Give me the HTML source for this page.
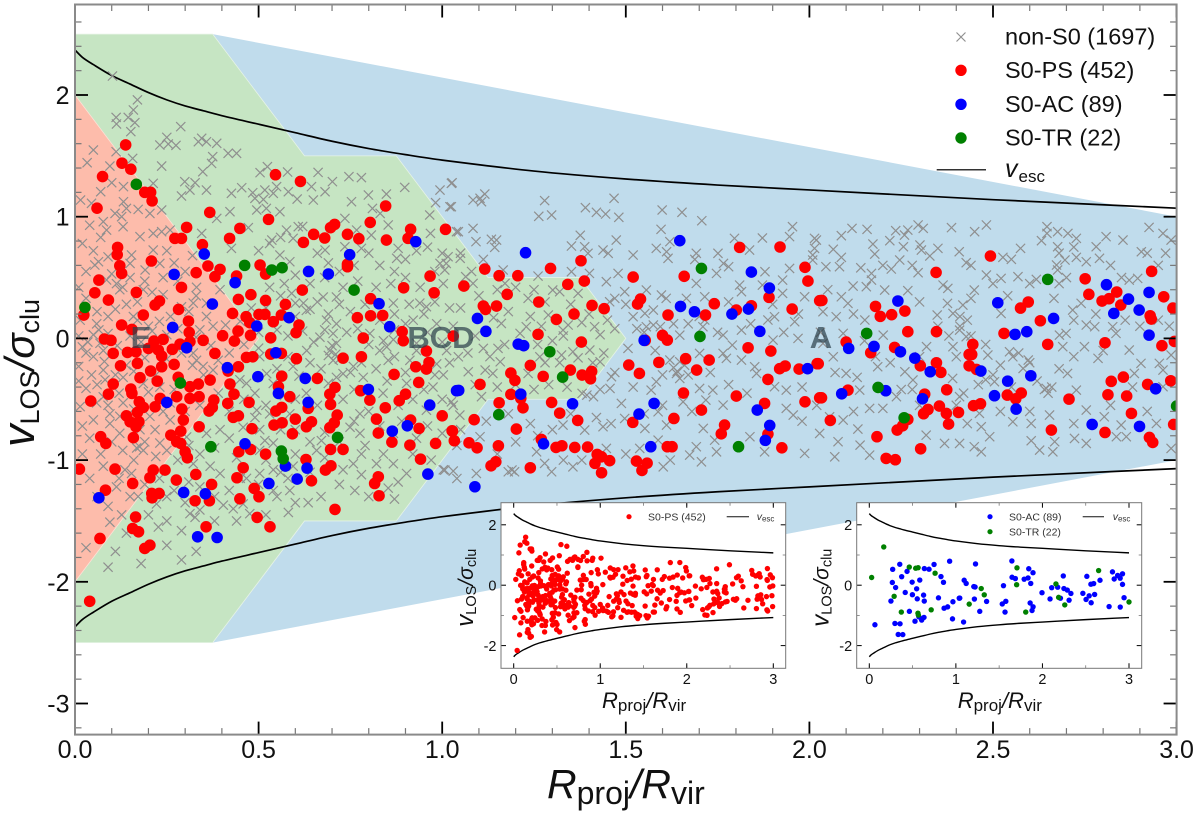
<!DOCTYPE html>
<html lang="en">
<head>
<meta charset="utf-8">
<title>Phase space diagram</title>
<style>
html,body{margin:0;padding:0;background:#fff;}
svg{display:block;font-family:"Liberation Sans",sans-serif;}
</style>
</head>
<body>
<svg id="chart" xmlns="http://www.w3.org/2000/svg" width="1200" height="816" viewBox="0 0 1200 816">
<defs>
<clipPath id="mainClip"><rect x="75" y="4.5" width="1101.6" height="730"/></clipPath>
</defs>
<g id="regions"></g>
<g id="mainCurves"></g>
<g id="mainPoints" clip-path="url(#mainClip)"></g>
<g font-weight="bold" font-size="31" fill="#2b3f4a" fill-opacity="0.7" text-anchor="middle">
<text x="141" y="348">E</text>
<text x="441" y="348">BCD</text>
<text x="821" y="348">A</text>
</g>
<g id="mainAxes"></g>
<g font-size="23.5" fill="#111">
<g>
<path d="M956.5 32.5L965.5 41.5M965.5 32.5L956.5 41.5" stroke="#919191" stroke-width="1.2" fill="none"/>
<text x="1005" y="44.5">non-S0 (1697)</text></g>
<g>
<circle cx="961" cy="70.3" r="5.7" fill="#ff0000"/><text x="1005" y="78">S0-PS (452)</text></g>
<g>
<circle cx="961" cy="104.3" r="5.7" fill="#0000ff"/><text x="1005" y="112">S0-AC (89)</text></g>
<g>
<circle cx="961" cy="138" r="5.7" fill="#008000"/><text x="1005" y="145.5">S0-TR (22)</text></g>
<g>
<line x1="936.7" y1="169.7" x2="986" y2="169.7" stroke="#333" stroke-width="1.5"/>
<text x="1005" y="177" font-style="italic" font-size="25">v</text><text x="1018.5" y="182" font-size="17">esc</text></g>
</g>
<text y="798" fill="#111" font-size="41"><tspan x="547" font-style="italic">R</tspan><tspan dy="6" font-size="32">proj</tspan><tspan dy="-6" font-style="italic">/R</tspan><tspan dy="6" font-size="32">vir</tspan></text>
<text transform="translate(34,447) rotate(-90)" fill="#111" font-size="42"><tspan x="0" font-style="italic" font-size="45">v</tspan><tspan dy="5" font-size="27">LOS</tspan><tspan dy="-5" font-style="italic">/σ</tspan><tspan dy="5" font-size="27">clu</tspan></text>
<g id="insetPs"></g>
<g id="insetAcTr"></g>
<g font-size="10.5" fill="#333">
<circle cx="629" cy="516.7" r="2.6" fill="#ff0000"/>
<text x="648" y="520.5">S0-PS (452)</text>
<line x1="726.7" y1="516.7" x2="749" y2="516.7" stroke="#111" stroke-width="1"/>
<text x="756.7" y="520"><tspan font-style="italic">v</tspan><tspan dy="1.5" font-size="8">esc</tspan></text>
</g>
<g font-size="10.5" fill="#333">
<circle cx="990" cy="516.7" r="2.6" fill="#0000ff"/>
<text x="1009" y="520.5">S0-AC (89)</text>
<circle cx="990" cy="531.7" r="2.6" fill="#008000"/>
<text x="1009" y="535.5">S0-TR (22)</text>
<line x1="1082.7" y1="516.7" x2="1104" y2="516.7" stroke="#111" stroke-width="1"/>
<text x="1112.7" y="520"><tspan font-style="italic">v</tspan><tspan dy="1.5" font-size="8">esc</tspan></text>
</g>
</svg>
<script>
const xTickValues=[0,0.5,1,1.5,2,2.5,3];
const xTickLabels=["0.0","0.5","1.0","1.5","2.0","2.5","3.0"];
const yTickValues=[-3,-2,-1,0,1,2];
const yTickLabels=["-3","-2","-1","0","1","2"];
const vescR=[0,0.02,0.05,0.1,0.15,0.2,0.25,0.3,0.35,0.4,0.5,0.6,0.7,0.8,0.9,1,1.25,1.5,1.75,2,2.5,3];
const vescV=[2.37,2.31,2.25,2.16,2.09,2.02,1.96,1.91,1.87,1.83,1.76,1.69,1.62,1.56,1.51,1.465,1.375,1.31,1.26,1.22,1.14,1.07];
const regionBlue=[[0.375,2.5],[3,1],[3,-1],[0.375,-2.5]];
const regionGreen=[[0,2.5],[0.375,2.5],[0.625,1.5],[0.875,1.5],[1.125,0.5],[1.375,0.5],[1.5,0],[1.375,-0.5],[1.125,-0.5],[0.875,-1.5],[0.625,-1.5],[0.375,-2.5],[0,-2.5]];
const regionRed=[[0,2],[0.5,0],[0,-2]];
const greenPoints=[[0.167,1.266],[0.462,0.6],[0.536,0.562],[0.564,0.581],[0.027,0.255],[0.287,-0.367],[0.37,-0.89],[0.562,-0.926],[0.567,-0.989],[0.715,-0.814],[0.76,0.397],[1.706,0.575],[1.702,0.016],[1.293,-0.11],[1.328,-0.318],[1.154,-0.627],[1.807,-0.89],[2.156,0.041],[2.187,-0.403],[2.258,-0.652],[2.649,0.485],[3,-0.556]];
const bluePoints=[[0.352,0.693],[0.27,0.526],[0.636,0.55],[0.69,0.529],[0.748,0.688],[0.928,0.795],[0.436,0.458],[0.374,0.282],[0.266,0.09],[0.304,-0.077],[0.415,-0.241],[0.495,0.101],[0.583,0.17],[0.547,-0.118],[0.498,-0.315],[0.627,-0.329],[0.554,-0.452],[0.635,-0.526],[0.25,-0.526],[0.463,-0.866],[0.573,-1.049],[0.632,-1.066],[0.528,-1.192],[0.605,-1.156],[0.065,-1.31],[0.296,-1.266],[0.355,-1.277],[0.334,-1.63],[0.387,-1.636],[0.828,0.285],[0.857,0.096],[0.799,-0.419],[0.966,-0.548],[0.905,-0.718],[0.864,-0.762],[0.961,-1.115],[1.039,-0.43],[1.227,0.704],[1.647,0.803],[1.842,0.545],[1.891,0.414],[1.096,0.164],[1.119,0.058],[1.207,-0.047],[1.222,-0.06],[1.649,0.263],[1.687,0.219],[1.789,0.2],[1.834,0.241],[1.865,0.058],[1.55,-0.016],[1.995,-0.249],[1.045,-0.427],[1.214,-0.458],[1.355,-0.537],[1.577,-0.534],[1.536,-0.622],[1.858,-0.589],[1.892,-0.715],[1.88,-0.838],[1.568,-0.89],[1.276,-0.866],[1.089,-1.219],[2.241,0.307],[2.513,0.293],[2.592,0.055],[2.56,0.033],[2.665,0.164],[2.107,-0.082],[2.176,-0.066],[2.248,-0.11],[2.287,-0.162],[2.329,-0.274],[2.467,-0.268],[2.603,-0.307],[2.54,-0.351],[2.208,-0.43],[2.088,-0.455],[2.308,-0.496],[2.504,-0.471],[2.563,-0.581],[2.77,-0.707],[2.899,-0.723],[2.809,0.441],[2.925,0.378],[2.869,0.323],[2.898,0.233],[2.829,0.205],[2.925,0.027],[2.943,-0.414]];
const redPoints=[[0.138,1.59],[0.128,1.44],[0.152,1.39],[0.075,1.33],[0.206,1.2],[0.19,1.2],[0.21,1.13],[0.06,1.07],[0.546,1.345],[0.614,1.29],[0.367,1.035],[0.527,0.978],[0.846,1.088],[0.804,0.953],[0.304,0.912],[0.449,0.904],[0.272,0.822],[0.29,0.822],[0.421,0.822],[0.707,0.937],[0.696,0.91],[0.65,0.855],[0.622,0.789],[0.68,0.825],[0.742,0.855],[0.773,0.819],[0.848,0.808],[0.907,0.822],[0.914,0.896],[1.009,0.896],[0.116,0.748],[0.115,0.688],[0.208,0.636],[0.347,0.77],[0.362,0.595],[0.395,0.567],[0.33,0.54],[0.122,0.597],[0.127,0.534],[0.065,0.479],[0.381,0.507],[0.44,0.512],[0.504,0.603],[0.519,0.529],[0.742,0.589],[0.742,0.61],[0.967,0.512],[0.054,0.375],[0.091,0.315],[0.167,0.378],[0.29,0.419],[0.282,0.238],[0.23,0.307],[0.218,0.274],[0.186,0.192],[0.024,0.192],[0.127,0.11],[0.155,0.074],[0.309,0.142],[0.311,0.049],[0.08,-0.005],[0.098,-0.016],[0.215,-0.022],[0.24,-0.008],[0.2,-0.082],[0.313,-0.027],[0.286,-0.047],[0.265,-0.09],[0.349,-0.016],[0.402,0.022],[0.434,-0.022],[0.444,0.06],[0.478,0.025],[0.429,0.205],[0.445,0.32],[0.479,0.359],[0.519,0.312],[0.619,0.397],[0.573,0.279],[0.501,0.197],[0.517,0.197],[0.466,0.178],[0.476,0.129],[0.54,0.137],[0.562,0.192],[0.61,0.11],[0.602,0.047],[0.533,0.005],[0.533,-0.129],[0.562,-0.123],[0.603,-0.167],[0.73,-0.162],[0.78,-0.151],[0.785,0.003],[0.769,0.17],[0.805,0.186],[0.838,0.189],[0.805,0.326],[0.895,0.416],[0.978,0.375],[0.891,0.055],[0.894,-0.019],[1.03,0.019],[0.957,-0.104],[0.964,-0.197],[0.928,-0.233],[0.957,-0.252],[0.869,-0.296],[0.936,-0.362],[0.9,-0.458],[0.883,-0.512],[0.845,-0.57],[1.0,-0.636],[0.821,-0.663],[0.914,-0.671],[0.826,-0.778],[0.937,-0.74],[0.863,-0.852],[0.912,-0.877],[0.982,-0.863],[1.028,-0.762],[0.941,-0.992],[0.826,-1.137],[0.816,-1.192],[0.828,-1.293],[0.708,-1.405],[0.778,-0.43],[0.803,-0.507],[0.708,-0.403],[0.694,-0.458],[0.696,-0.542],[0.66,-0.329],[0.585,-0.479],[0.563,-0.31],[0.554,-0.397],[0.563,-0.567],[0.547,-0.597],[0.635,-0.575],[0.6,-0.663],[0.714,-0.63],[0.706,-0.693],[0.694,-0.734],[0.644,-0.685],[0.63,-0.726],[0.564,-0.693],[0.542,-0.712],[0.592,-0.784],[0.482,-0.742],[0.445,-0.636],[0.431,-0.649],[0.474,-0.526],[0.416,-0.534],[0.433,-0.458],[0.422,-0.375],[0.417,-0.268],[0.445,-0.233],[0.484,-0.151],[0.467,-0.156],[0.381,-0.123],[0.368,-0.342],[0.336,-0.375],[0.313,-0.397],[0.338,-0.479],[0.313,-0.493],[0.277,-0.479],[0.281,-0.32],[0.27,-0.214],[0.236,-0.233],[0.206,-0.268],[0.224,-0.351],[0.177,-0.323],[0.17,-0.205],[0.124,-0.225],[0.104,-0.123],[0.143,-0.115],[0.166,-0.11],[0.227,-0.096],[0.236,-0.145],[0.104,-0.375],[0.091,-0.458],[0.043,-0.515],[0.152,-0.416],[0.155,-0.452],[0.175,-0.521],[0.186,-0.567],[0.17,-0.608],[0.14,-0.636],[0.15,-0.685],[0.174,-0.685],[0.166,-0.726],[0.218,-0.562],[0.232,-0.493],[0.378,-0.507],[0.374,-0.567],[0.365,-0.597],[0.291,-0.581],[0.295,-0.671],[0.338,-0.726],[0.288,-0.762],[0.261,-0.795],[0.277,-0.849],[0.288,-0.863],[0.3,-0.932],[0.306,-0.981],[0.07,-0.808],[0.084,-0.863],[0.159,-0.816],[0.012,-1.074],[0.109,-1.074],[0.245,-1.082],[0.204,-1.145],[0.213,-1.082],[0.157,-1.192],[0.329,-1.118],[0.276,-1.164],[0.083,-1.247],[0.209,-1.274],[0.21,-1.31],[0.229,-1.274],[0.372,-1.2],[0.366,-1.334],[0.327,-1.334],[0.165,-1.468],[0.157,-1.562],[0.173,-1.589],[0.068,-1.644],[0.204,-1.699],[0.19,-1.726],[0.357,-1.548],[0.441,-1.145],[0.458,-1.063],[0.446,-0.932],[0.478,-0.912],[0.519,-0.951],[0.488,-1.233],[0.501,-1.301],[0.449,-1.318],[0.496,-1.471],[0.531,-1.548],[0.629,-0.995],[0.682,-1.082],[0.697,-1.047],[0.644,-1.17],[0.696,-0.912],[0.73,-0.912],[0.04,-2.16],[1.116,0.57],[1.155,0.515],[1.206,0.515],[1.295,0.575],[1.378,0.638],[1.387,0.471],[1.342,0.444],[1.059,0.43],[1.177,0.362],[1.112,0.266],[1.118,0.238],[1.148,0.266],[1.263,0.299],[1.408,0.271],[1.441,0.244],[1.359,0.2],[1.311,0.156],[1.261,0.033],[1.379,-0.03],[1.24,-0.222],[1.349,-0.26],[1.275,-0.312],[1.187,-0.285],[1.198,-0.345],[1.381,-0.301],[1.407,-0.271],[1.404,-0.332],[1.103,-0.378],[1.187,-0.46],[1.214,-0.493],[1.22,-0.57],[1.155,-0.529],[1.298,-0.526],[1.32,-0.614],[1.369,-0.674],[1.087,-0.668],[1.202,-0.745],[1.027,-0.759],[1.033,-0.841],[1.073,-0.858],[1.095,-0.899],[1.153,-0.882],[1.146,-1.014],[1.133,-1.047],[1.24,-1.063],[1.27,-0.83],[1.31,-0.896],[1.326,-0.882],[1.361,-0.896],[1.396,-0.893],[1.422,-0.953],[1.434,-0.973],[1.416,-1.027],[1.456,-1.005],[1.434,-1.104],[1.52,0.504],[1.54,0.323],[1.532,0.282],[1.659,0.51],[1.81,0.748],[1.92,0.751],[1.615,0.192],[1.717,0.192],[1.741,0.285],[1.801,0.233],[1.842,0.268],[1.89,0.337],[1.953,0.241],[1.988,0.584],[1.996,0.471],[2.028,0.31],[1.553,-0.016],[1.6,0.025],[1.613,-0.014],[1.833,-0.077],[1.895,-0.104],[1.508,-0.219],[1.537,-0.288],[1.59,-0.197],[1.663,-0.167],[1.727,-0.178],[1.693,-0.26],[1.887,-0.337],[1.919,-0.249],[1.934,-0.227],[1.972,-0.252],[2.021,-0.208],[1.657,-0.449],[1.801,-0.474],[1.878,-0.534],[1.988,-0.521],[2.028,-0.488],[1.706,-0.589],[1.631,-0.658],[1.519,-0.69],[1.769,-0.712],[1.76,-0.784],[1.887,-0.786],[1.613,-0.89],[1.626,-0.89],[1.925,-0.899],[1.529,-1.008],[1.558,-1.025],[1.544,-1.085],[2.034,0.312],[2.18,0.263],[2.193,0.181],[2.224,0.195],[2.26,0.225],[2.345,0.542],[2.493,0.677],[2.268,0.055],[2.346,0.055],[2.1,-0.03],[2.167,-0.118],[2.232,-0.074],[2.024,-0.208],[2.302,-0.225],[2.346,-0.2],[2.358,-0.279],[2.445,-0.049],[2.442,-0.132],[2.435,-0.132],[2.435,-0.225],[2.455,-0.255],[2.105,-0.425],[2.033,-0.488],[2.374,-0.422],[2.314,-0.458],[2.354,-0.556],[2.323,-0.584],[2.311,-0.619],[2.373,-0.616],[2.406,-0.608],[2.379,-0.704],[2.057,-0.674],[2.268,-0.666],[2.254,-0.718],[2.239,-0.753],[2.184,-0.808],[2.303,-0.907],[2.209,-0.986],[2.234,-0.997],[2.53,0.041],[2.649,-0.049],[2.629,0.145],[2.575,0.249],[2.596,0.299],[2.751,0.49],[2.761,0.362],[2.797,0.307],[2.816,0.326],[2.837,0.381],[2.848,0.274],[2.932,0.551],[2.965,0.342],[2.99,0.249],[2.928,0.186],[2.931,0.159],[2.805,-0.036],[2.96,-0.06],[2.994,-0.025],[2.822,-0.353],[2.855,-0.318],[2.921,-0.378],[2.984,-0.348],[2.813,-0.463],[2.864,-0.474],[2.877,-0.616],[2.707,-0.499],[2.539,-0.466],[2.577,-0.449],[2.562,-0.496],[2.466,-0.537],[2.447,-0.553],[2.659,-0.753],[2.805,-0.773],[2.926,-0.814],[2.935,-0.855],[2.992,-0.707]];
const greyPoints=[[0.102,2.156],[0.17,1.96],[0.159,1.877],[0.112,1.816],[0.145,1.816],[0.113,1.762],[0.163,1.773],[0.152,1.699],[0.288,1.74],[0.25,1.652],[0.231,1.589],[0.254,1.597],[0.275,1.586],[0.345,1.644],[0.336,1.616],[0.358,1.616],[0.386,1.603],[0.417,1.521],[0.44,1.521],[0.05,1.548],[0.033,1.444],[0.112,1.534],[0.095,1.416],[0.157,1.479],[0.236,1.416],[0.375,1.493],[0.372,1.438],[0.348,1.37],[0.504,1.362],[0.524,1.411],[0.579,1.367],[0.662,1.364],[0.746,1.329],[0.78,1.321],[0.299,1.288],[0.327,1.279],[0.358,1.219],[0.313,1.219],[0.29,1.17],[0.426,1.192],[0.454,1.238],[0.484,1.197],[0.49,1.151],[0.517,1.219],[0.513,1.142],[0.549,1.247],[0.54,1.192],[0.581,1.205],[0.605,1.145],[0.644,1.247],[0.649,1.137],[0.681,1.205],[0.701,1.288],[0.753,1.123],[0.799,1.178],[0.848,1.186],[0.898,1.241],[0.81,1.068],[0.994,1.219],[1.025,1.274],[0.982,1.115],[1.025,1.082],[0.966,1.014],[0.015,1.137],[0.045,1.11],[0.07,1.205],[0.1,1.279],[0.132,1.247],[0.132,1.123],[0.14,1.068],[0.172,1.06],[0.204,1.027],[0.236,1.055],[0.213,1.274],[0.109,1.027],[0.077,0.959],[0.127,1],[0.131,0.918],[0.086,0.89],[0.177,0.836],[0.213,0.863],[0.236,0.877],[0.259,0.89],[0.345,0.863],[0.422,1.041],[0.386,0.986],[0.558,1.041],[0.521,1.068],[0.495,1.055],[0.735,0.986],[0.576,0.89],[0.608,0.918],[0.472,0.91],[0.536,0.808],[0.594,0.822],[0.426,0.74],[0.807,0.849],[0.767,0.89],[0.831,1.027],[0.853,0.932],[0.968,0.863],[1.039,0.877],[0.88,0.74],[0.681,0.726],[0.735,0.753],[0.78,0.74],[0.558,0.685],[0.585,0.63],[1.016,0.671],[0.994,0.616],[0.876,0.658],[0.054,0.603],[0.064,0.63],[0.154,0.685],[0.15,0.616],[0.191,0.562],[0.213,0.726],[0.231,0.616],
[0.014,0.15],[0.059,0.12],[0.05,0.03],[0.02,-0.07],[0.01,-0.23],[0.045,-0.3],[0.077,-0.26],[0.082,-0.34],[0.014,-0.56],[0.05,-0.67],[0.095,-0.7],[0.122,-0.78],[0.168,-0.9],[0.176,-0.89],[0.231,-0.86],[0.077,-1.05],[0.136,-1.08],[0.154,-1.11],[0.113,-1.22],[0.172,-1.3],[0.095,-1.51],[0.127,-1.45],[0.227,-1.55],[0.222,-1.36],[0.25,-1.3],[0.327,-1.47],[0.313,-1.44],[0.34,-1.41],[0.29,-1.58],[0.404,-1.37],[0.431,-1.4],[0.458,-1.36],[0.476,-1.44],[0.581,-1.43],[0.635,-1.35],[0.585,-1.25],[0.467,-1.15],[0.395,-1.11],[0.322,-1.03],[0.368,-1.05],[0.54,-1.08],[0.503,-1.11],[0.594,-1.05],[0.73,-1.08],[0.758,-1.03],[0.762,-1.25],[0.853,-1.23],[0.903,-1.11],[0.821,-1.03],[0.776,-0.78],[0.78,-0.95],[0.658,-0.92],[0.671,-0.84],[0.517,-0.84],[0.503,-0.75],[0.54,-0.86],[0.458,-0.73],[0.495,-0.59],[0.395,-0.75],[0.358,-0.78],[0.304,-0.81],[0.186,-0.92],[0.204,-0.64],[0.177,-0.75],[0.122,-0.64],[0.095,-0.62],[0.059,-0.53],[0.077,-0.48],[0.131,-0.53],[0.259,-0.53],[0.259,-0.67],[0.218,-0.75],[0.231,-0.4],[0.186,-0.37],[0.131,-0.32],[0.077,-0.1],[0.068,-0.04],[0.05,-0.15],[0.159,0.18],[0.122,0.4],[0.086,0.48],[0.113,0.45],[0.186,0.4],[0.24,0.36],[0.322,0.29],[0.331,0.42],[0.358,0.29],[0.395,0.4],[0.34,0.07],[0.376,0.1],[0.358,0.18],[0.331,-0.18],[0.322,-0.12],[0.349,-0.23],[0.376,-0.26],[0.449,-0.34],[0.467,-0.37],[0.503,-0.15],[0.54,-0.37],[0.522,-0.29],[0.594,-0.23],[0.631,-0.1],[0.667,0.01],[0.685,0.15],[0.712,0.12],[0.703,0.04],[0.712,-0.04],[0.694,-0.1],[0.703,-0.18],[0.73,-0.29],[0.712,-0.32],[0.622,0.29],[0.63,0.23],[0.6,0.29],[0.59,0.37],[0.676,0.34],[0.712,0.34],[0.803,0.04],[0.83,-0.1],[0.849,-0.07],[0.853,-0.18],[0.785,-0.32],[0.758,-0.23],[0.867,0.29],[0.939,0.29],[0.957,0.26],[0.921,0.15],[0.985,0.12],[1.003,0.45],[1.003,-0.3],[0.985,-0.21],[0.912,-0.18],[0.867,-0.01],[1.012,-0.1],[0.975,-0.4],[0.839,-0.45],[0.776,-0.62],[0.749,-0.73],[0.503,-0.92],[0.585,-0.62],[0.867,-1.03],[1.003,-1.08],[1.03,-1.09],[0.867,-0.78],[0.957,-0.59],[0.903,-0.37],
[1.027,1.279],[1.021,1.082],[1.084,1.137],[1.103,1.151],[1.116,1.186],[1.107,1.123],[1.279,1.132],[1.263,1.003],[1.298,1.014],[1.39,1.074],[1.468,1.151],[1.42,1.036],[1.445,1.022],[1.481,0.995],[1.599,1.055],[1.653,1.036],[1.707,0.967],[1.596,0.896],[1.084,0.904],[1.092,0.795],[1.134,0.814],[1.148,0.808],[1.143,0.748],[1.044,0.877],[1.376,0.847],[1.352,0.759],[1.388,0.753],[1.474,0.808],[1.438,0.726],[1.452,0.699],[1.397,0.699],[1.52,0.685],[1.583,0.74],[1.611,0.712],[1.615,0.658],[1.62,0.795],[1.692,0.699],[1.688,0.649],[1.751,0.699],[1.796,0.822],[1.837,0.726],[1.872,0.825],[1.946,0.836],[1.954,0.918],[2.019,0.808],[2.014,0.74],[2.009,0.644],[1.766,0.616],[1.78,0.589],[1.879,0.548],[1.946,0.575],[1.927,0.479],[1.479,0.534],[1.447,0.466],[1.401,0.534],[1.352,0.548],[1.261,0.512],[1.112,0.649],[1.049,0.658],[1.011,0.616],[1.007,0.562],[1.064,0.507],[1.084,0.452],[1.166,0.562],[1.171,0.452],[1.234,0.329],[1.301,0.397],[1.32,0.384],[1.37,0.37],[1.47,0.329],[1.456,0.301],[1.497,0.384],[1.556,0.397],[1.597,0.356],[1.61,0.329],[1.692,0.452],[1.665,0.329],[1.715,0.342],[1.747,0.534],[1.81,0.438],[1.815,0.384],[1.927,0.37],[1.872,0.438],[1.987,0.342],[1.52,0.178],[1.552,0.205],[1.575,0.233],[1.575,0.11],[1.556,0.096],[1.594,0.096],[1.647,0.027],[1.71,0.096],[1.715,0.151],[1.765,0.027],[1.815,0.068],[1.887,0.151],[1.905,0.178],[1.96,0.137],[1.969,0],[1.901,-0.014],[1.79,-0.055],[1.765,-0.123],[1.774,-0.164],[1.815,-0.178],[1.851,-0.233],[1.856,-0.288],[1.701,-0.123],[1.647,-0.192],[1.62,-0.178],[1.638,-0.288],[1.647,-0.329],[1.583,-0.356],[1.569,-0.425],[1.701,-0.411],[1.737,-0.425],[1.718,-0.507],[1.656,-0.521],[1.765,-0.548],[1.937,-0.575],[1.956,-0.63],[1.905,-0.397],[1.937,-0.425],[1.488,-0.534],[1.497,-0.658],[1.552,-0.74],[1.588,-0.603],[1.611,-0.712],[1.711,-0.74],[1.742,-0.836],[1.747,-0.932],[1.692,-0.89],[1.674,-0.959],[1.706,-1.014],[1.838,-0.808],[1.878,-0.932],[1.987,-0.945],[1.621,-1],[1.602,-1.055],[1.588,-0.836],[1.538,-0.904],[1.438,-0.726],[1.388,-0.753],[1.329,-0.712],[1.381,-0.452],[1.412,-0.479],[1.457,-0.411],[1.461,-0.315],[1.43,-0.192],[1.506,-0.082],[1.402,-0.096],[1.356,-0.11],[1.325,-0.137],[1.329,0.068],[1.343,0.11],[1.415,0.096],[1.289,0.192],[1.229,0.096],[1.212,0.041],[1.161,0.123],[1.112,-0.082],[1.152,-0.082],[1.044,-0.151],[1.071,-0.274],[1.117,-0.26],[1.158,-0.192],[1.138,-0.288],[1.234,-0.288],[1.266,-0.151],[1.107,-0.479],[1.025,-0.521],[1.048,-0.63],[1.103,-0.808],[1.19,-1.082],[1.197,-1.096],[1.18,-1.096],[1.298,-1.096],[1.356,-1.055],[1.279,-1.027],[1.257,-0.932],[1.093,-1.11],[1.04,-1.151],[1.007,-1.082],[1.447,-0.904],[1.394,-0.466],
[2.116,0.904],[2.087,0.844],[2.157,0.896],[2.235,0.885],[2.268,0.89],[2.259,0.849],[2.296,0.932],[2.31,0.904],[2.387,0.91],[2.45,0.877],[2.482,0.932],[2.647,0.918],[2.647,0.863],[2.632,0.803],[2.676,0.877],[2.704,0.863],[2.727,0.822],[2.808,0.836],[2.854,0.808],[2.925,0.912],[2.963,0.863],[2.985,0.808],[2.014,0.822],[2.065,0.732],[2.173,0.775],[2.178,0.693],[2.219,0.803],[2.256,0.753],[2.301,0.767],[2.305,0.726],[2.35,0.74],[2.408,0.712],[2.328,0.677],[2.246,0.644],[2.223,0.57],[2.087,0.666],[2.082,0.589],[2.045,0.589],[2.009,0.685],[2.427,0.622],[2.527,0.666],[2.575,0.74],[2.676,0.753],[2.696,0.644],[2.673,0.603],[2.727,0.666],[2.754,0.63],[2.79,0.658],[2.781,0.753],[2.904,0.712],[2.169,0.534],[2.169,0.479],[2.155,0.425],[2.205,0.397],[2.119,0.43],[2.268,0.392],[2.296,0.54],[2.364,0.438],[2.377,0.411],[2.482,0.521],[2.522,0.493],[2.568,0.507],[2.618,0.485],[2.676,0.562],[2.871,0.479],[2.894,0.493],[2.449,0.397],[2.44,0.329],[2.418,0.274],[2.391,0.205],[2.087,0.342],[2.105,0.288],[2.037,0.219],[2.073,0.178],[2.151,0.151],[2.348,0.192],[2.376,0.288],[2.522,0.205],[2.666,0.329],[2.717,0.233],[2.74,0.288],[2.754,0.11],[2.777,0.096],[2.699,0.041],[2.681,0.027],[2.826,0.096],[2.835,0.041],[2.545,-0.11],[2.554,-0.151],[2.486,-0.137],[2.409,0.068],[2.427,0.014],[2.391,-0.068],[2.4,-0.151],[2.319,-0.068],[2.201,0.027],[2.092,0.041],[2.037,-0.041],[2.065,-0.151],[2.1,-0.288],[2.186,-0.233],[2.26,-0.274],[2.282,-0.342],[2.39,-0.329],[2.504,-0.356],[2.582,-0.247],[2.596,-0.178],[2.703,-0.288],[2.645,-0.411],[2.786,-0.164],[2.871,-0.096],[2.903,-0.205],[2.749,-0.068],[2.69,-0.068],[2.953,-0.205],[2.963,-0.26],[2.985,-0.137],[2.164,-0.575],[2.2,-0.575],[2.237,-0.479],[2.137,-0.425],[2.055,-0.644],[2.092,-0.671],[2.132,-0.745],[2.028,-0.781],[2.078,-0.849],[2.138,-0.877],[2.069,-0.973],[2.164,-0.959],[2.318,-0.795],[2.368,-0.863],[2.409,-0.863],[2.449,-0.89],[2.468,-0.932],[2.491,-0.808],[2.468,-0.726],[2.409,-0.479],[2.463,-0.616],[2.554,-0.685],[2.604,-0.699],[2.654,-0.63],[2.627,-0.918],[2.663,-0.932],[2.668,-0.849],[2.604,-0.841],[2.754,-0.589],[2.722,-0.822],[2.754,-0.863],[2.836,-0.808],[2.863,-0.808],[2.849,-0.712],[2.945,-0.699],[2.803,-0.644],[2.885,-0.288],[2.963,-0.397],[2.727,-0.425],[2.985,-0.904]];
const greyPointsDense=[[0.01,0.42],[0.03,0.55],[0.05,0.72],[0.02,0.78],[0.07,0.83],[0.04,0.93],[0.09,0.67],[0.1,0.53],[0.13,0.42],[0.15,0.5],[0.17,0.3],[0.19,0.47],[0.21,0.38],[0.24,0.5],[0.27,0.62],[0.3,0.55],[0.32,0.68],[0.25,0.72],[0.28,0.47],[0.33,0.35],[0.03,0.33],[0.06,0.22],[0.09,0.18],[0.11,0.24],[0.14,0.28],[0.17,0.15],[0.2,0.1],[0.23,0.14],[0.26,0.18],[0.29,0.26],[0.31,0.22],[0.01,0.02],[0.035,-0.03],[0.065,0.07],[0.09,0.04],[0.115,-0.06],[0.15,0.02],[0.18,-0.03],[0.21,0.06],[0.25,0.03],[0.28,0.08],[0.33,0.01],[0.37,-0.06],[0.41,0.11],[0.45,0.14],[0.48,0.25],[0.03,-0.12],[0.08,-0.19],[0.11,-0.3],[0.14,-0.22],[0.16,-0.27],[0.19,-0.16],[0.22,-0.3],[0.25,-0.17],[0.29,-0.12],[0.32,-0.22],[0.35,-0.3],[0.39,-0.18],[0.42,-0.12],[0.46,-0.05],[0.01,-0.35],[0.03,-0.41],[0.06,-0.38],[0.09,-0.55],[0.12,-0.45],[0.16,-0.58],[0.2,-0.44],[0.24,-0.6],[0.27,-0.42],[0.3,-0.6],[0.34,-0.55],[0.39,-0.45],[0.42,-0.6],[0.46,-0.5],[0.02,-0.72],[0.04,-0.82],[0.07,-0.95],[0.1,-0.85],[0.13,-0.92],[0.16,-1.0],[0.19,-0.85],[0.22,-0.97],[0.25,-0.92],[0.28,-1.0],[0.31,-0.88],[0.34,-0.95],[0.38,-0.9],[0.42,-0.82],[0.44,-0.98],[0.02,-0.95],[0.04,-1.15],[0.06,-1.3],[0.09,-1.38],[0.12,-1.15],[0.15,-1.3],[0.19,-1.2],[0.23,-1.15],[0.27,-1.25],[0.31,-1.18],[0.34,-1.22],[0.38,-1.3],[0.42,-1.25],[0.45,-1.15],[0.5,-1.2],[0.55,-1.3],[0.58,-1.15],[0.6,-1.35],[0.2,-1.45],[0.25,-1.5],[0.3,-1.35],[0.14,-1.6],[0.11,-1.75],[0.25,-1.7],[0.29,-1.82],[0.09,-1.88],[0.03,-1.72],[0.18,-1.85],[0.33,-1.75],[0.38,-1.5],[0.44,-1.5],[0.52,-1.45],
[0.5,0.72],[0.53,0.78],[0.56,0.83],[0.62,0.92],[0.66,0.7],[0.69,0.62],[0.72,0.55],[0.76,0.6],[0.8,0.7],[0.83,0.6],[0.87,0.55],[0.9,0.65],[0.93,0.72],[0.96,0.75],[1,0.7],[0.53,0.42],[0.57,0.45],[0.6,0.52],[0.64,0.45],[0.68,0.5],[0.73,0.42],[0.77,0.47],[0.82,0.42],[0.86,0.45],[0.9,0.5],[0.94,0.42],[0.98,0.55],[0.52,0.25],[0.56,0.35],[0.6,0.18],[0.64,0.24],[0.66,0.3],[0.69,0.2],[0.72,0.28],[0.75,0.22],[0.79,0.28],[0.83,0.15],[0.87,0.2],[0.91,0.28],[0.95,0.2],[0.98,0.3],[1.02,0.25],[0.5,0.05],[0.55,0.07],[0.58,0.02],[0.62,0.06],[0.65,-0.03],[0.68,0.07],[0.7,-0.06],[0.71,-0.13],[0.72,-0.17],[0.69,-0.14],[0.74,0.05],[0.77,0.08],[0.8,-0.05],[0.84,-0.02],[0.87,0.07],[0.9,0.12],[0.93,-0.04],[0.96,0.05],[1,-0.03],[1.03,0.1],[0.5,-0.08],[0.55,-0.25],[0.58,-0.15],[0.61,-0.31],[0.64,-0.2],[0.67,-0.25],[0.75,-0.28],[0.78,-0.2],[0.82,-0.25],[0.87,-0.15],[0.9,-0.28],[0.93,-0.1],[0.98,-0.3],[1.02,-0.2],[0.49,-0.45],[0.52,-0.55],[0.57,-0.47],[0.6,-0.5],[0.63,-0.45],[0.66,-0.55],[0.69,-0.37],[0.73,-0.5],[0.76,-0.42],[0.8,-0.6],[0.85,-0.35],[0.88,-0.55],[0.92,-0.5],[0.95,-0.42],[1,-0.5],[1.03,-0.55],[0.49,-0.65],[0.53,-0.62],[0.56,-0.75],[0.6,-0.75],[0.64,-0.85],[0.68,-0.77],[0.72,-0.85],[0.76,-0.68],[0.79,-0.88],[0.83,-0.72],[0.89,-0.68],[0.93,-0.82],[0.96,-0.72],[1,-0.78],[1.04,-0.88],[0.52,-1.0],[0.56,-1.1],[0.6,-0.95],[0.64,-1.1],[0.68,-0.98],[0.72,-1.2],[0.78,-1.12],[0.84,-0.95],[0.88,-1.18],[0.92,-0.95],[0.97,-1.0],[0.67,-1.3],[0.54,-1.25],[0.8,-1.3],[0.87,-1.32],
[1.05,0.7],[1.08,0.55],[1.1,0.35],[1.15,0.4],[1.2,0.42],[1.25,0.4],[1.28,0.3],[1.35,0.28],[1.4,0.2],[1.45,0.15],[1.5,0.28],[1.05,0.25],[1.09,0.02],[1.14,0.17],[1.18,0.22],[1.24,0.18],[1.27,0.1],[1.3,-0.02],[1.33,0.02],[1.38,0.13],[1.43,0.03],[1.47,0.08],[1.07,-0.12],[1.13,-0.15],[1.17,-0.05],[1.26,-0.05],[1.28,-0.2],[1.32,-0.2],[1.37,-0.16],[1.41,-0.2],[1.44,-0.12],[1.09,-0.38],[1.15,-0.4],[1.2,-0.38],[1.25,-0.42],[1.29,-0.38],[1.34,-0.4],[1.43,-0.42],[1.47,-0.28],[1.05,-0.75],[1.12,-0.68],[1.18,-0.62],[1.24,-0.7],[1.3,-0.75],[1.35,-0.62],[1.42,-0.65],[1.46,-0.7],[1.15,-0.95],[1.2,-0.85],[1.26,-0.8],[1.33,-1.0],[1.38,-1],[1.5,-0.95],[1.55,-0.62],[1.6,-0.3],[1.53,0.08],[1.55,0.05],[1.58,-0.1],[1.63,0.12],[1.67,0.12],[1.7,0.18],[1.75,0.05],[1.78,0.3],[1.84,0.12],[1.9,0.28],[1.93,0.05],[1.97,0.2],[2.03,0.05],[2.05,0.4],[2.12,0.2],[2.15,-0.02],[2.18,-0.15],[2.07,-0.28],[2.13,-0.32],[1.66,-0.22],[1.64,-0.27],[1.63,-0.24],[1.67,-0.3],[1.52,-0.4],[1.6,-0.55],[1.68,-0.6],[1.73,-0.28],[1.78,-0.38],[1.83,-0.45],[1.98,-0.4],[1.98,-0.68],[2.02,-0.55],[2.12,-0.6],[2.25,-0.42],[2.22,-0.2],[2.3,-0.15],[2.35,0.1],[2.38,0.02],[2.41,0.1],[2.43,0.15],[2.41,0.18],[2.44,0.02],[2.48,-0.05],[2.52,-0.22],[2.5,-0.3],[2.48,-0.34],[2.46,-0.38],[2.55,-0.4],[2.57,-0.12],[2.6,-0.2],[2.62,-0.35],[2.65,-0.45],[2.64,-0.42],[2.66,-0.4],[2.68,-0.25],[2.72,-0.15],[2.72,0.15],[2.78,0.2],[2.8,-0.1],[2.86,0.15],[2.9,0.1],[2.95,0.15],[2.98,0.1],[2.88,-0.4],[2.82,-0.55],[2.92,-0.6],[2.72,-0.7],[2.6,-0.6],[2.52,-0.6],[2.42,-0.45],[2.43,-0.7],[2.3,-0.55],[2.28,-0.42],[2.4,-0.55],[2.54,0.35],[2.55,0.65],[2.6,0.45],[2.68,0.45],[2.7,0.5],[2.68,0.7],[2.72,0.75],[2.82,0.6],[2.85,0.5],[2.95,0.6],[2.97,0.7],[2.92,0.7],[2.5,0.45],[2.44,0.6],[2.28,0.6],[2.3,0.3],[2.2,0.6],[2.14,0.58]];

const NS="http://www.w3.org/2000/svg";
function mk(parent,tag,attrs,text){
  const el=document.createElementNS(NS,tag);
  for(const k in attrs) el.setAttribute(k,attrs[k]);
  if(text!==undefined) el.textContent=text;
  parent.appendChild(el);
  return el;
}
const mainX=x=>75+367.2*x;
const mainY=v=>338.4-121.7*v;

function drawRegion(list,fill,stroke,name){
  const g=document.getElementById("regions");
  const el=mk(g,"polygon",{points:list.map(p=>mainX(p[0])+","+mainY(p[1])).join(" "),fill:fill,stroke:stroke,"stroke-width":0.8});
  
  
}
drawRegion(regionBlue,"#c0dcec","none","region-a");
drawRegion(regionGreen,"#c6e5c3","#e6f3e6","region-bcd");
drawRegion(regionRed,"#fdbcab","#fde0d6","region-e");

function smoothPath(pts){
  let d=`M${pts[0][0]} ${pts[0][1]}`;
  for(let i=0;i<pts.length-1;i++){
    const p0=pts[Math.max(i-1,0)],p1=pts[i],p2=pts[i+1],p3=pts[Math.min(i+2,pts.length-1)];
    const h=(p2[0]-p1[0])/3;
    const m1=(p2[1]-p0[1])/(p2[0]-p0[0]);
    const m2=(p3[1]-p1[1])/(p3[0]-p1[0]);
    d+=`C${p1[0]+h} ${p1[1]+m1*h} ${p2[0]-h} ${p2[1]-m2*h} ${p2[0]} ${p2[1]}`;
  }
  return d;
}
function drawCurves(parent,sx,sy,width){
  [1,-1].forEach(sign=>{
    const el=mk(parent,"path",{d:smoothPath(vescR.map((r,i)=>[sx(r),sy(sign*vescV[i])])),fill:"none",stroke:"#000","stroke-width":width});
    
    
  });
}
function drawCrosses(parent,list,sx,sy){
  const h=4.6;
  list.forEach(p=>{
    const x=sx(p[0]),y=sy(p[1]);
    const el=mk(parent,"path",{d:`M${x-h} ${y-h}L${x+h} ${y+h}M${x+h} ${y-h}L${x-h} ${y+h}`,stroke:"#8f8f8f","stroke-width":1.2,fill:"none"});
    
    
  });
}
function drawDots(parent,list,sx,sy,r,color,name){
  list.forEach(p=>{
    const el=mk(parent,"circle",{cx:sx(p[0]),cy:sy(p[1]),r:r,fill:color});
    
    
  });
}
function drawTicks(parent,box,xs,ys,len,color,width){
  xs.forEach(v=>{
    const x=box.sx(v);
    mk(parent,"line",{x1:x,x2:x,y1:box.bottom,y2:box.bottom-len,stroke:color,"stroke-width":width});
    mk(parent,"line",{x1:x,x2:x,y1:box.top,y2:box.top+len,stroke:color,"stroke-width":width});
  });
  ys.forEach(v=>{
    const y=box.sy(v);
    mk(parent,"line",{x1:box.left,x2:box.left+len,y1:y,y2:y,stroke:color,"stroke-width":width});
    mk(parent,"line",{x1:box.right,x2:box.right-len,y1:y,y2:y,stroke:color,"stroke-width":width});
  });
}
function steps(a,b,s){const out=[];const n=Math.round((b-a)/s);for(let i=0;i<=n;i++)out.push(+(a+i*s).toFixed(3));return out;}

/* main plot */
const mainCurves=document.getElementById("mainCurves");
drawCurves(mainCurves,mainX,mainY,1.7);
const mainPoints=document.getElementById("mainPoints");
drawCrosses(mainPoints,greyPoints,mainX,mainY);
drawCrosses(mainPoints,greyPointsDense,mainX,mainY);
drawDots(mainPoints,redPoints,mainX,mainY,5.8,"#ff0000","s0-ps-point");
drawDots(mainPoints,bluePoints,mainX,mainY,5.8,"#0000ff","s0-ac-point");
drawDots(mainPoints,greenPoints,mainX,mainY,5.8,"#008000","s0-tr-point");

const mainBox={left:75,right:1176.6,top:4.5,bottom:734.6,sx:mainX,sy:mainY};
const mainAxes=document.getElementById("mainAxes");
drawTicks(mainAxes,mainBox,steps(0,3,0.1),steps(-3.2,2.6,0.2),6.5,"#777",1.2);
drawTicks(mainAxes,mainBox,xTickValues,yTickValues,13,"#000",1.8);
const mainFrame=mk(mainAxes,"rect",{x:75,y:4.5,width:1101.6,height:730.1,fill:"none",stroke:"#8a8a8a","stroke-width":2});


xTickValues.forEach((v,i)=>{
  const el=mk(mainAxes,"text",{x:mainX(v),y:758,"font-size":25,"text-anchor":"middle",fill:"#111"},xTickLabels[i]);
  
  
});
yTickValues.forEach((v,i)=>{
  const el=mk(mainAxes,"text",{x:69.5,y:mainY(v)+9,"font-size":25,"text-anchor":"end",fill:"#111"},yTickLabels[i]);
  
  
});

/* insets */
const insetXTicks=[0,1,2,3];
const insetYTicks=[-2,0,2];
const insetYLabels=["-2","0","2"];
function drawInset(id,left,right,zeroX,threeX,series){
  const g=document.getElementById(id);
  const sx=x=>zeroX+(threeX-zeroX)/3*x;
  const sy=v=>585.2-30.2*v;
  const box={left:left,right:right,top:502.7,bottom:668.3,sx:sx,sy:sy};
  const bg=mk(g,"rect",{x:left,y:502.7,width:right-left,height:165.6,fill:"#fff"});
  
  
  drawCurves(g,sx,sy,1.4);
  series.forEach(s=>drawDots(g,s.list,sx,sy,2.7,s.color,s.name));
  drawTicks(g,box,steps(0,3,0.5),[-1,1],3,"#777",0.8);
  drawTicks(g,box,insetXTicks,insetYTicks,5,"#000",1);
  const frame=mk(g,"rect",{x:left,y:502.7,width:right-left,height:165.6,fill:"none",stroke:"#777","stroke-width":1});
  
  
  insetXTicks.forEach(v=>{
    const el=mk(g,"text",{x:sx(v),y:684,"font-size":14.5,"text-anchor":"middle",fill:"#111"},String(v));
    
    
  });
  insetYTicks.forEach((v,i)=>{
    const el=mk(g,"text",{x:left-4.5,y:sy(v)+5.2,"font-size":14.5,"text-anchor":"end",fill:"#111"},insetYLabels[i]);
    
    
  });
  const xl=mk(g,"text",{y:708,"font-size":22,fill:"#111"});
  
  
  const cx=left+101;
  mk(xl,"tspan",{x:cx,"font-style":"italic"},"R");
  mk(xl,"tspan",{dy:3,"font-size":17},"proj");
  mk(xl,"tspan",{dy:-3,"font-style":"italic"},"/R");
  mk(xl,"tspan",{dy:3,"font-size":17},"vir");
  const yl=mk(g,"text",{transform:`translate(${left-28},626.7) rotate(-90)`,"font-size":21,fill:"#111"});
  
  
  mk(yl,"tspan",{x:0,"font-style":"italic","font-size":24},"v");
  mk(yl,"tspan",{dy:3,"font-size":14.5},"LOS");
  mk(yl,"tspan",{dy:-3,"font-style":"italic"},"/σ");
  mk(yl,"tspan",{dy:3,"font-size":14.5},"clu");
}
drawInset("insetPs",501,785.7,513.7,773.3,[{list:redPoints,color:"#ff0000",name:"inset-s0-ps-point"}]);
drawInset("insetAcTr",856.7,1141.7,869.3,1129,[{list:bluePoints,color:"#0000ff",name:"inset-s0-ac-point"},{list:greenPoints,color:"#008000",name:"inset-s0-tr-point"}]);
</script>
</body>
</html>
